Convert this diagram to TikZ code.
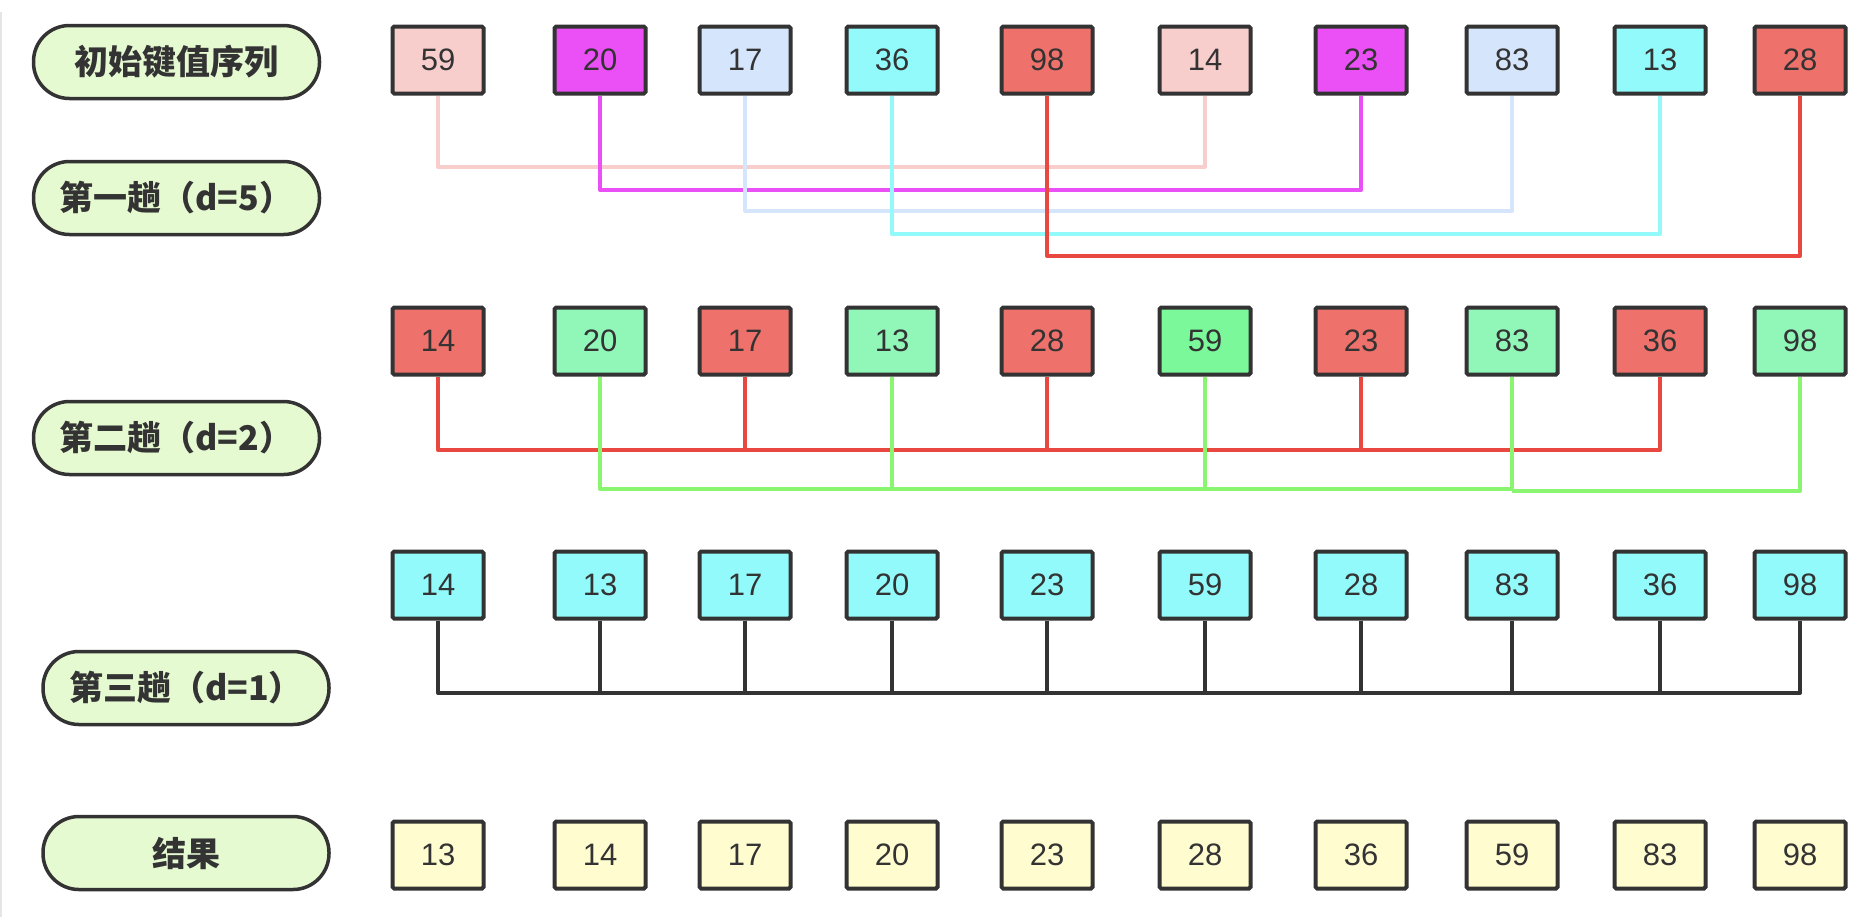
\documentclass[tikz,border=0pt]{standalone}
\usepackage{fontspec}
\setmainfont{Liberation Sans}
\newfontfamily\cjk{Noto Sans CJK SC}
\usetikzlibrary{positioning,calc}
\definecolor{ink}{RGB}{51,51,51}
\definecolor{lblfill}{RGB}{230,250,210}
\definecolor{kpink}{RGB}{248,206,204}
\definecolor{kmag}{RGB}{234,80,245}
\definecolor{kblue}{RGB}{212,229,252}
\definecolor{kcyan}{RGB}{146,250,251}
\definecolor{kred}{RGB}{238,114,107}
\definecolor{redline}{RGB}{233,72,64}
\definecolor{kgreen}{RGB}{144,247,185}
\definecolor{kgreenb}{RGB}{122,248,154}
\definecolor{greenline}{RGB}{138,245,112}
\definecolor{kyellow}{RGB}{255,252,208}
\tikzset{
    pass/.style={
        rectangle,
        rounded corners=18pt,
        line width=1.75pt,
        draw=ink,
        fill=lblfill,
        text=ink,
        minimum width=143pt,
        minimum height=36.5pt,
        font=\cjk\bfseries\fontsize{17pt}{20pt}\selectfont,
    },
    key/.style={
        rectangle,
        rounded corners=0.8pt,
        line width=2pt,
        draw=ink,
        text=ink,
        minimum width=45.5pt,
        minimum height=33.5pt,
        inner sep=0pt,
        font=\fontsize{15.5pt}{18pt}\selectfont,
    },
    link/.style={
        draw,
        line width=2pt,
        line join=round,
    },
}

\begin{document}
\begin{tikzpicture}[x=0.5pt,y=-0.5pt]
    \useasboundingbox (0,0) rectangle (1871,917);
    \draw[gray!20, line width=1pt] (1,917) -- (1,12);
    % row labels
    \node [pass] (init) at (176.5,62) {初始键值序列};
    \node [pass] (pass1) at (176.5,198) {第一趟（d=5）};
    \node [pass] (pass2) at (176.5,438) {第二趟（d=2）};
    \node [pass] (pass3) at (186,688) {第三趟（d=1）};
    \node [pass] (res) at (186,853) {结果};
    % keys
    \foreach \i/\x/\v/\c in {1/438/59/kpink, 2/600/20/kmag, 3/745/17/kblue, 4/892/36/kcyan, 5/1047/98/kred,
        6/1205/14/kpink, 7/1361/23/kmag, 8/1512/83/kblue, 9/1660/13/kcyan, 10/1800/28/kred}
        \node [key, fill=\c] (a\i) at (\x,60) {\v};
    \foreach \i/\x/\v/\c in {1/438/14/kred, 2/600/20/kgreen, 3/745/17/kred, 4/892/13/kgreen, 5/1047/28/kred,
        6/1205/59/kgreenb, 7/1361/23/kred, 8/1512/83/kgreen, 9/1660/36/kred, 10/1800/98/kgreen}
        \node [key, fill=\c] (b\i) at (\x,341) {\v};
    \foreach \i/\x/\v in {1/438/14, 2/600/13, 3/745/17, 4/892/20, 5/1047/23,
        6/1205/59, 7/1361/28, 8/1512/83, 9/1660/36, 10/1800/98}
        \node [key, fill=kcyan] (c\i) at (\x,585) {\v};
    \foreach \i/\x/\v in {1/438/13, 2/600/14, 3/745/17, 4/892/20, 5/1047/23,
        6/1205/28, 7/1361/36, 8/1512/59, 9/1660/83, 10/1800/98}
        \node [key, fill=kyellow] (r\i) at (\x,855) {\v};
    % d=5
    \draw [link, kpink] (a1.south) -- (a1.south |- 0,167) -| (a6.south);
    \draw [link, kmag] (a2.south) -- (a2.south |- 0,190) -| (a7.south);
    \draw [link, kblue] (a3.south) -- (a3.south |- 0,211) -| (a8.south);
    \draw [link, kcyan] (a4.south) -- (a4.south |- 0,234) -| (a9.south);
    \draw [link, redline] (a5.south) -- (a5.south |- 0,256) -| (a10.south);
    % d=2
    \draw [link, redline] (b1.south) -- (b1.south |- 0,450) -| (b9.south);
    \foreach \i in {3,5,7}
        \draw [link, redline] (b\i.south) -- (b\i.south |- 0,450);
    \draw [link, greenline] (b2.south) -- (b2.south |- 0,489) -- (b8.south |- 0,489) -- (b8.south);
    \draw [link, greenline] (b8.south |- 0,491) -| (b10.south);
    \foreach \i in {4,6}
        \draw [link, greenline] (b\i.south) -- (b\i.south |- 0,489);
    % d=1
    \draw [link, ink] (c1.south) -- (c1.south |- 0,693) -| (c10.south);
    \foreach \i in {2,...,9}
        \draw [link, ink] (c\i.south) -- (c\i.south |- 0,693);
\end{tikzpicture}
\end{document}
